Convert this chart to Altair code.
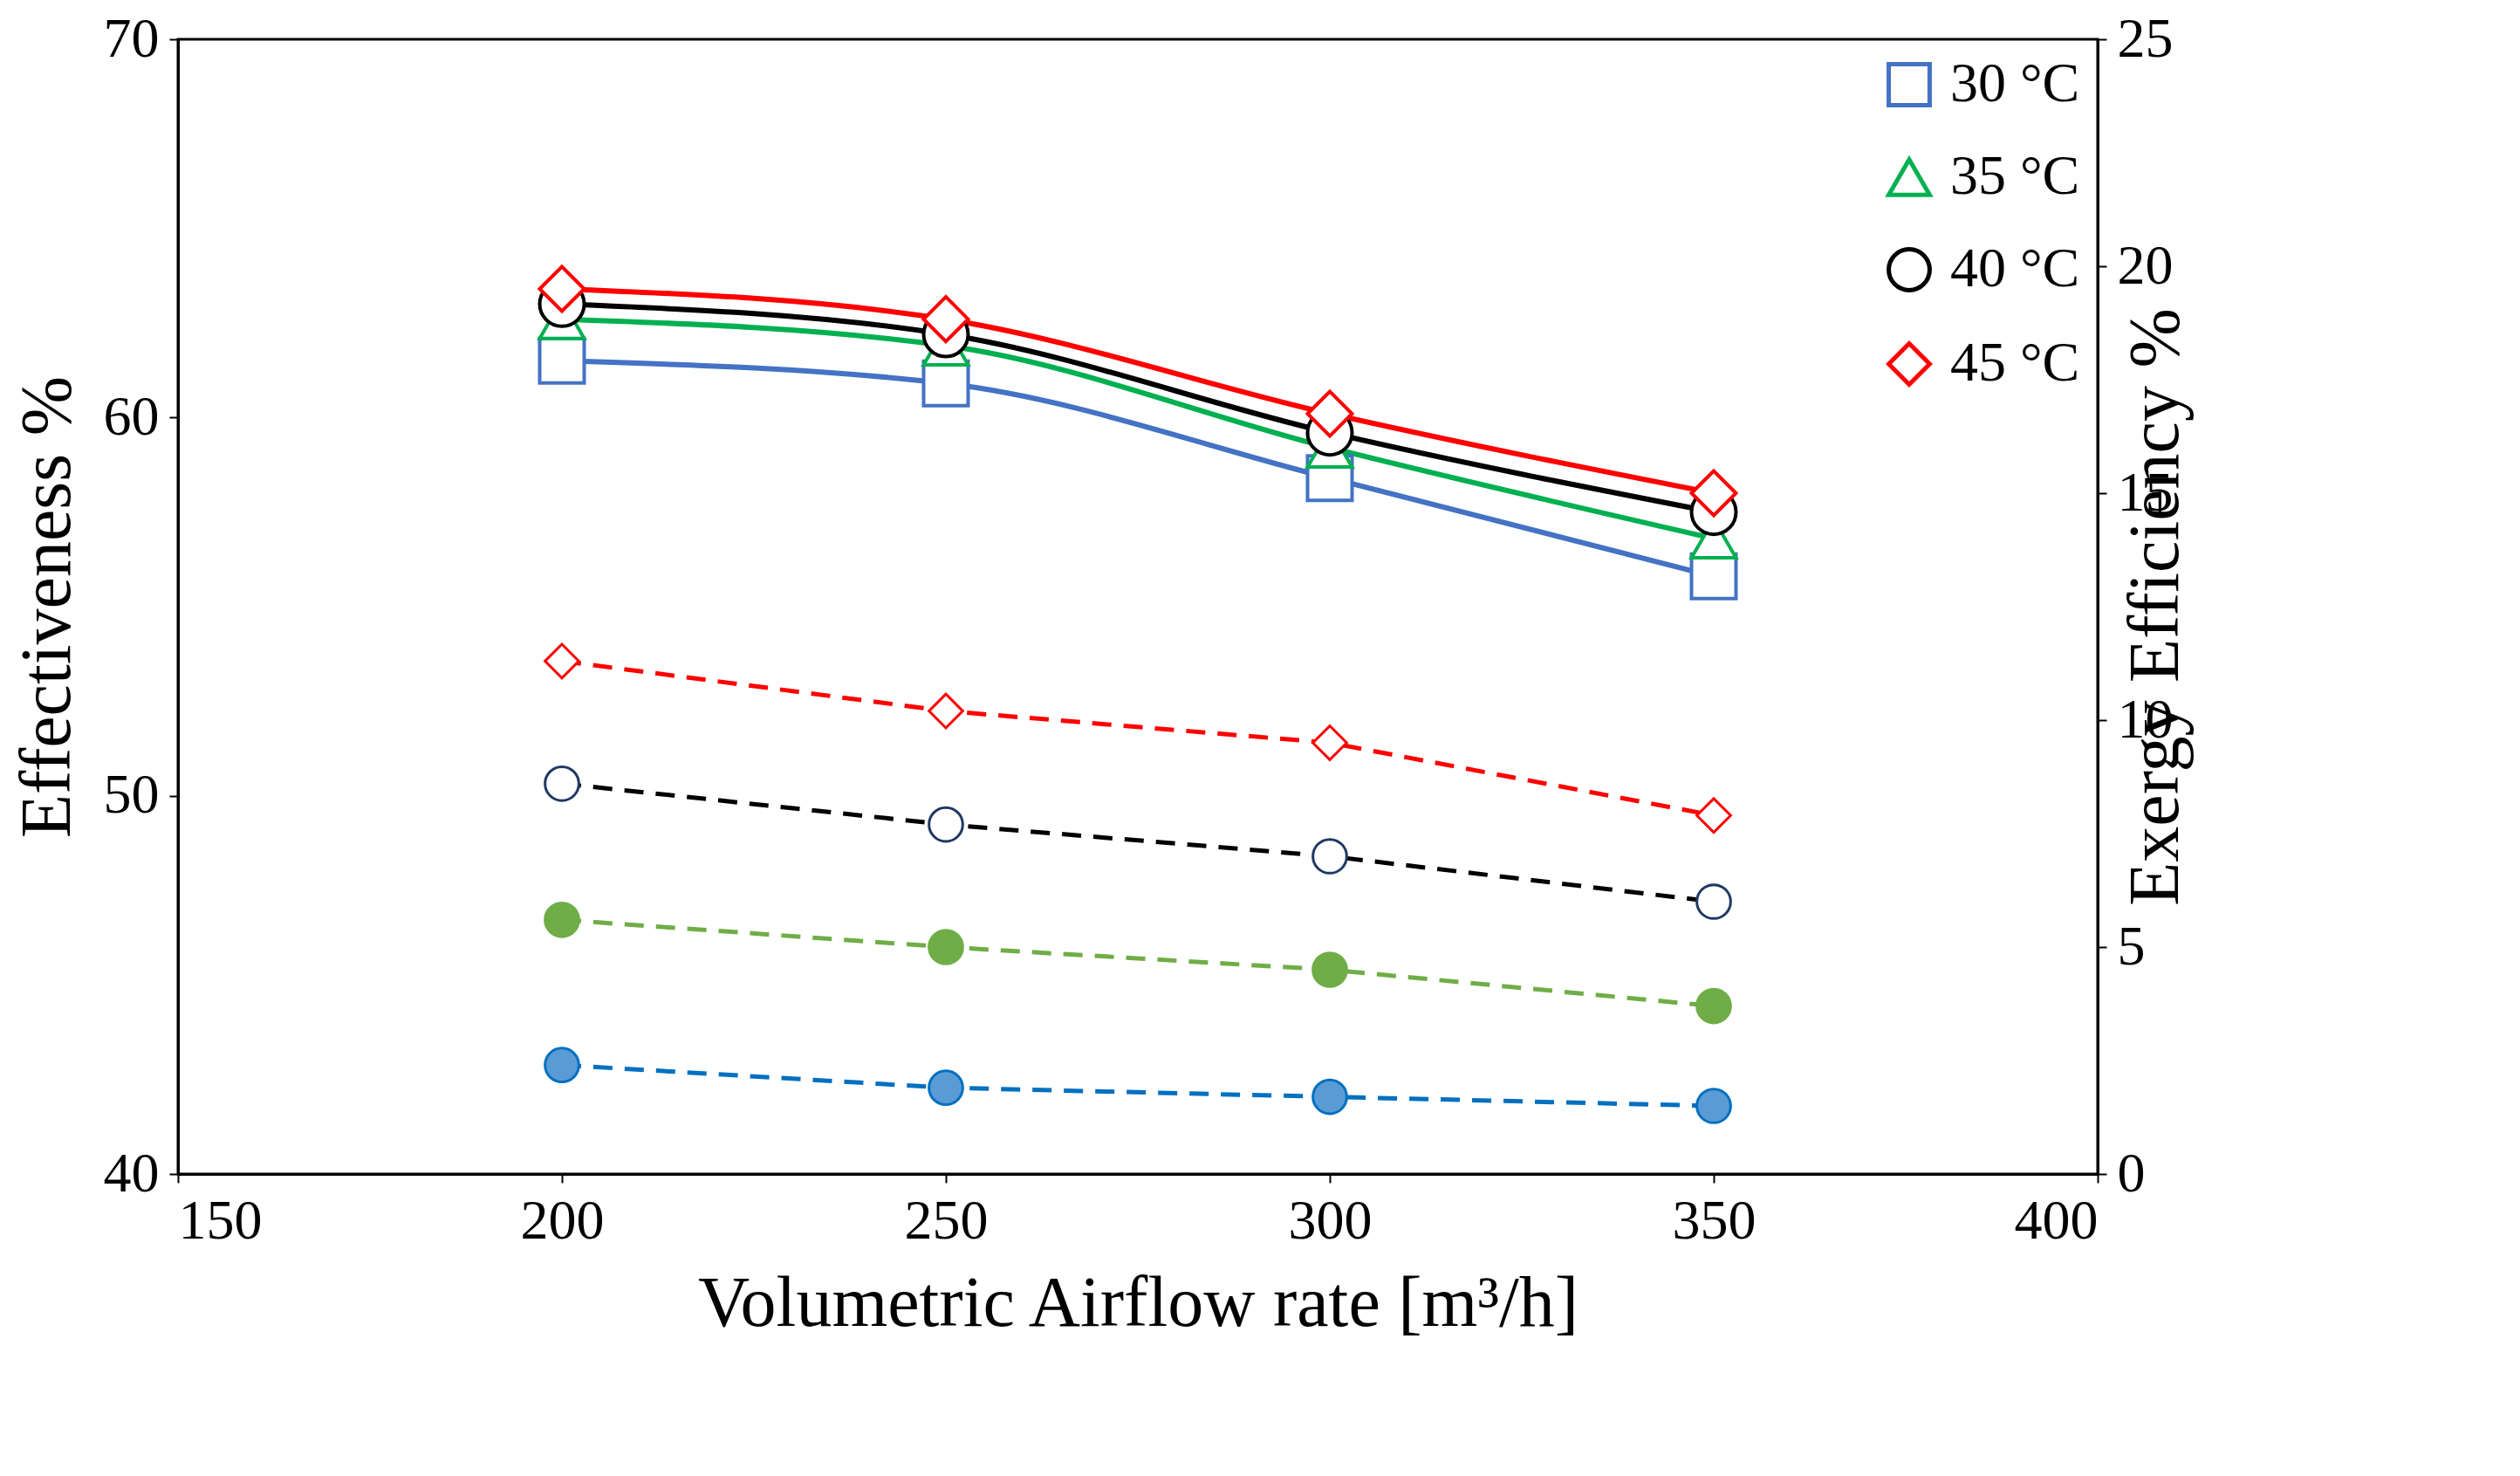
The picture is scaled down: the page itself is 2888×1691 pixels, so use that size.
import altair as alt
import pandas as pd

flow = [200, 250, 300, 350]
series = ["30 °C", "35 °C", "40 °C", "45 °C"]
dseries = ["30 d", "35 d", "40 d", "45 d"]
eff = {
    "30 °C": [61.5, 60.9, 58.4, 55.8],
    "35 °C": [62.6, 61.9, 59.2, 56.8],
    "40 °C": [63.0, 62.2, 59.6, 57.5],
    "45 °C": [63.4, 62.6, 60.1, 58.0],
}
exergy = {
    "30 d": [2.4, 1.9, 1.7, 1.5],
    "35 d": [5.6, 5.0, 4.5, 3.7],
    "40 d": [8.6, 7.7, 7.0, 6.0],
    "45 d": [11.3, 10.2, 9.5, 7.9],
}
solid_colors = ["#4472c4", "#00b050", "#000000", "#ff0000"]
shapes = ["square", "triangle-up", "circle", "diamond"]
dash_colors = ["#0070c0", "#70ad47", "#000000", "#ff0000"]
dash_fill = ["#5b9bd5", "#70ad47", "#ffffff", "#ffffff"]
dash_stroke = ["#0070c0", "#70ad47", "#1f3864", "#ff0000"]
dash_shapes = ["circle", "circle", "circle", "diamond"]

df1 = pd.DataFrame([{"x": x, "y": v, "s": s} for s in series for x, v in zip(flow, eff[s])])
df2 = pd.DataFrame([{"x": x, "y": v, "s": s} for s in dseries for x, v in zip(flow, exergy[s])])

FONT = "Liberation Serif"
xenc = alt.X("x:Q", scale=alt.Scale(domain=[150, 400], nice=False),
             axis=alt.Axis(values=[150, 200, 250, 300, 350, 400], title="Volumetric Airflow rate [m³/h]",
                           grid=False, titlePadding=22))
cs = alt.Scale(domain=series + dseries, range=solid_colors + dash_colors)
ss = alt.Scale(domain=series + dseries, range=shapes + dash_shapes)
leg = alt.Legend(title=None, orient="top-right", values=series, symbolSize=2200, symbolStrokeWidth=5,
                 symbolFillColor="white", labelFontSize=64, labelFont=FONT, rowPadding=40,
                 labelOffset=15, padding=10, offset=10)

left_y = alt.Y("y:Q", scale=alt.Scale(domain=[40, 70], nice=False),
               axis=alt.Axis(values=[40, 50, 60, 70], title="Effectiveness %", grid=False, titlePadding=22))
lines1 = alt.Chart(df1).mark_line(interpolate="monotone", strokeWidth=6).encode(
    x=xenc, y=left_y, color=alt.Color("s:N", scale=cs, legend=leg))
pts1 = alt.Chart(df1).mark_point(size=2600, filled=False, fill="white", fillOpacity=1,
                                 strokeWidth=4, opacity=1).encode(
    x=xenc, y=left_y,
    color=alt.Color("s:N", scale=cs, legend=leg),
    shape=alt.Shape("s:N", scale=ss, legend=leg),
)
left = alt.layer(lines1, pts1)

right_y = alt.Y("y:Q", scale=alt.Scale(domain=[0, 25], nice=False),
                axis=alt.Axis(values=[0, 5, 10, 15, 20, 25], title="Exergy Efficiency %", orient="right",
                              grid=False, titlePadding=22, titleAngle=270))
lines2 = alt.Chart(df2).mark_line(strokeWidth=5, strokeDash=[22, 14]).encode(
    x=xenc, y=right_y, color=alt.Color("s:N", scale=cs, legend=None))
pts2 = alt.Chart(df2).mark_point(size=1500, filled=True, strokeWidth=3, opacity=1).encode(
    x=xenc, y=right_y,
    shape=alt.Shape("s:N", scale=ss, legend=None),
    fill=alt.Fill("s:N", scale=alt.Scale(domain=dseries, range=dash_fill), legend=None),
    stroke=alt.Stroke("s:N", scale=alt.Scale(domain=dseries, range=dash_stroke), legend=None),
)
right = alt.layer(lines2, pts2)

chart = alt.layer(left, right).resolve_scale(y="independent").properties(
    width=2200, height=1300, background="white"
).configure_axis(
    labelFont=FONT, titleFont=FONT, labelFontSize=64, titleFontSize=82, titleFontWeight="normal",
    labelColor="black", titleColor="black", domainColor="black", domainWidth=3,
    tickColor="black", tickSize=10, tickWidth=2, labelPadding=12
).configure_view(stroke="black", strokeWidth=3)

chart.save("out.html", embed_options={"renderer": "svg", "actions": False})
